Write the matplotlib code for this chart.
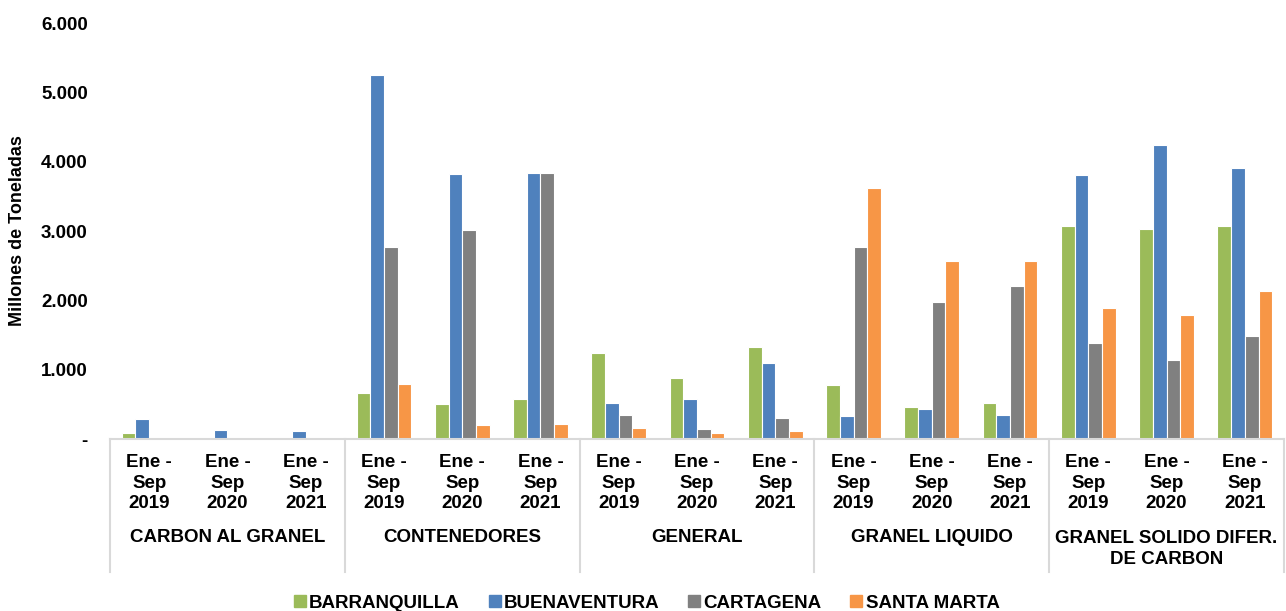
import matplotlib
matplotlib.use("Agg")
import matplotlib.pyplot as plt
import numpy as np
from matplotlib.lines import Line2D
from matplotlib.transforms import blended_transform_factory

plt.rcParams['font.family'] = ['Liberation Sans', 'DejaVu Sans']
plt.rcParams['font.weight'] = 'bold'

categories = ["CARBON AL GRANEL", "CONTENEDORES", "GENERAL", "GRANEL LIQUIDO",
              "GRANEL SOLIDO DIFER.\nDE CARBON"]
periods = ["Ene -\nSep\n2019", "Ene -\nSep\n2020", "Ene -\nSep\n2021"]
series_names = ["BARRANQUILLA", "BUENAVENTURA", "CARTAGENA", "SANTA MARTA"]

# values in thousands (displayed with '.' thousands separator)
barranquilla = [86, 0, 0, 658, 504, 576, 1235, 874, 1326, 773, 461, 523, 3074, 3031, 3065]
buenaventura = [290, 130, 115, 5245, 3818, 3842, 523, 576, 1095, 336, 427, 341, 3809, 4246, 3905]
cartagena = [0, 0, 0, 2776, 3016, 3842, 350, 144, 302, 2767, 1979, 2209, 1388, 1138, 1480]
santa_marta = [0, 0, 0, 797, 197, 221, 154, 82, 115, 3622, 2565, 2565, 1892, 1787, 2128]

yticks = [0, 1000, 2000, 3000, 4000, 5000, 6000]
ytick_labels = ["-", "1.000", "2.000", "3.000", "4.000", "5.000", "6.000"]

colors = ["#9BBB59", "#4F81BD", "#808080", "#F79646"]

fig = plt.figure(figsize=(12.86, 6.11), dpi=100)
ax = fig.add_axes([110/1286, 1-439/611, (1284-110)/1286, (439-23)/611])

series = [barranquilla, buenaventura, cartagena, santa_marta]
n = len(barranquilla)
x = np.arange(n)
w = 0.175
for i, (vals, c) in enumerate(zip(series, colors)):
    ax.bar(x + (i - 1.5) * w, vals, width=w, color=c, edgecolor='white', linewidth=0.8,
           label=series_names[i])

ax.set_xlim(-0.5, n - 0.5)
ax.set_ylim(0, 6000)
ax.set_yticks(yticks)
ax.set_yticklabels(ytick_labels, fontsize=13.5, fontweight='bold')
ax.tick_params(axis='y', length=0, pad=16)
ax.set_xticks([])
for s in ['top', 'right', 'left']:
    ax.spines[s].set_visible(False)
ax.spines['bottom'].set_color('#D9D9D9')
ax.spines['bottom'].set_linewidth(1.5)

fig.text(18/1286, 1-231/611, "Millones de Toneladas", rotation=90, ha='center', va='center',
         fontsize=13, fontweight='bold')

trans = blended_transform_factory(ax.transData, ax.transAxes)
ax_h = 439 - 23
def yfrac(py):
    return (439 - py) / ax_h

for i in range(n):
    ax.text(x[i], yfrac(483), periods[i % 3], transform=trans, ha='center', va='center',
            fontsize=13.5, fontweight='bold', linespacing=1.3)
for k, cat in enumerate(categories):
    cy = 538 if '\n' not in cat else 549
    ax.text(3 * k + 1, yfrac(cy), cat, transform=trans, ha='center', va='center',
            fontsize=13.5, fontweight='bold', linespacing=1.3)

for b in np.arange(-0.5, n, 3):
    ax.add_line(Line2D([b, b], [0, yfrac(572)], transform=trans, color='#D9D9D9',
                       linewidth=1.5, clip_on=False))

handles = [Line2D([], [], marker='s', linestyle='none', markersize=9, color=c) for c in colors]
fig.legend(handles, series_names, loc='center', bbox_to_anchor=(646/1286, 1-603/611),
           ncol=4, frameon=False, prop={'weight': 'bold', 'size': 13.5},
           handletextpad=0.1, columnspacing=1.45, handlelength=0.8)

fig.savefig("out.png", dpi=100)
